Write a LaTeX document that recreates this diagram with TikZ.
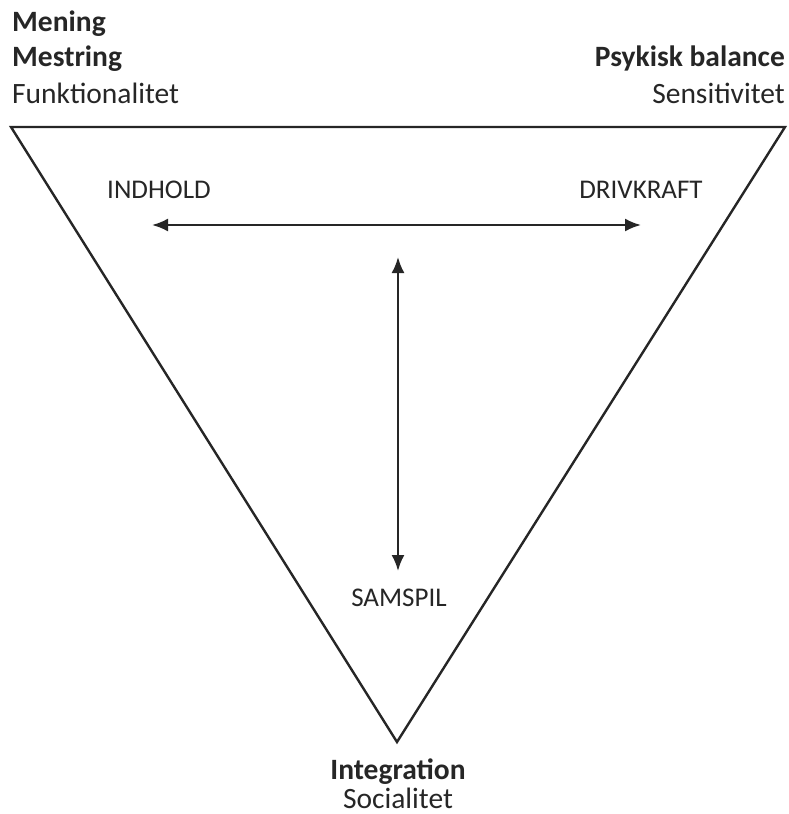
\documentclass[tikz,border=0pt]{standalone}
\usepackage{fontspec}
\setmainfont{Carlito}
\usetikzlibrary{arrows.meta,positioning}

\begin{document}
\begin{tikzpicture}[x=1pt,y=-1pt,>={Latex[length=16pt,width=13pt]},
  lbl/.style={font=\fontsize{27}{36}\selectfont,inner sep=0pt,text=black!85},
  crn/.style={lbl,font=\fontsize{29.5}{36}\selectfont},
  hd/.style={lbl,font=\fontsize{29.5}{36}\selectfont\bfseries},
  arr/.style={<->,line width=2.2pt,black!85}]
\useasboundingbox (0,0) rectangle (789,814);

% the triangle
\coordinate (tl) at (11,127);
\coordinate (tr) at (785,127);
\coordinate (bt) at (397,742);
\draw[line width=2.4pt,black!85,line join=miter] (tl) -- (tr) -- (bt) -- cycle;

% labels at the corners
\node[hd,anchor=base west] (mening) at (12,31) {Mening};
\node[hd,anchor=base west] (mestring) at (12,66) {Mestring};
\node[crn,anchor=base west] (funk) at (12,103) {Funktionalitet};
\node[hd,anchor=base east] (psyk) at (785,66) {Psykisk balance};
\node[crn,anchor=base east] (sens) at (785,103) {Sensitivitet};
\node[hd,anchor=base] (integ) at (398,779) {Integration};
\node[crn,anchor=base] (soc) at (398,808) {Socialitet};

% inner labels
\node[lbl,anchor=base] (indhold) at (159,198) {INDHOLD};
\node[lbl,anchor=base] (drivkraft) at (641,198) {DRIVKRAFT};
\node[lbl,anchor=base] (samspil) at (399,606) {SAMSPIL};

% the arrows
\coordinate (al) at (152,225);
\coordinate (ar) at (641,225);
\coordinate (au) at (398,257);
\coordinate (ad) at (398,571);
\draw[arr] (al) -- (ar);
\draw[arr] (au) -- (ad);
\end{tikzpicture}
\end{document}
